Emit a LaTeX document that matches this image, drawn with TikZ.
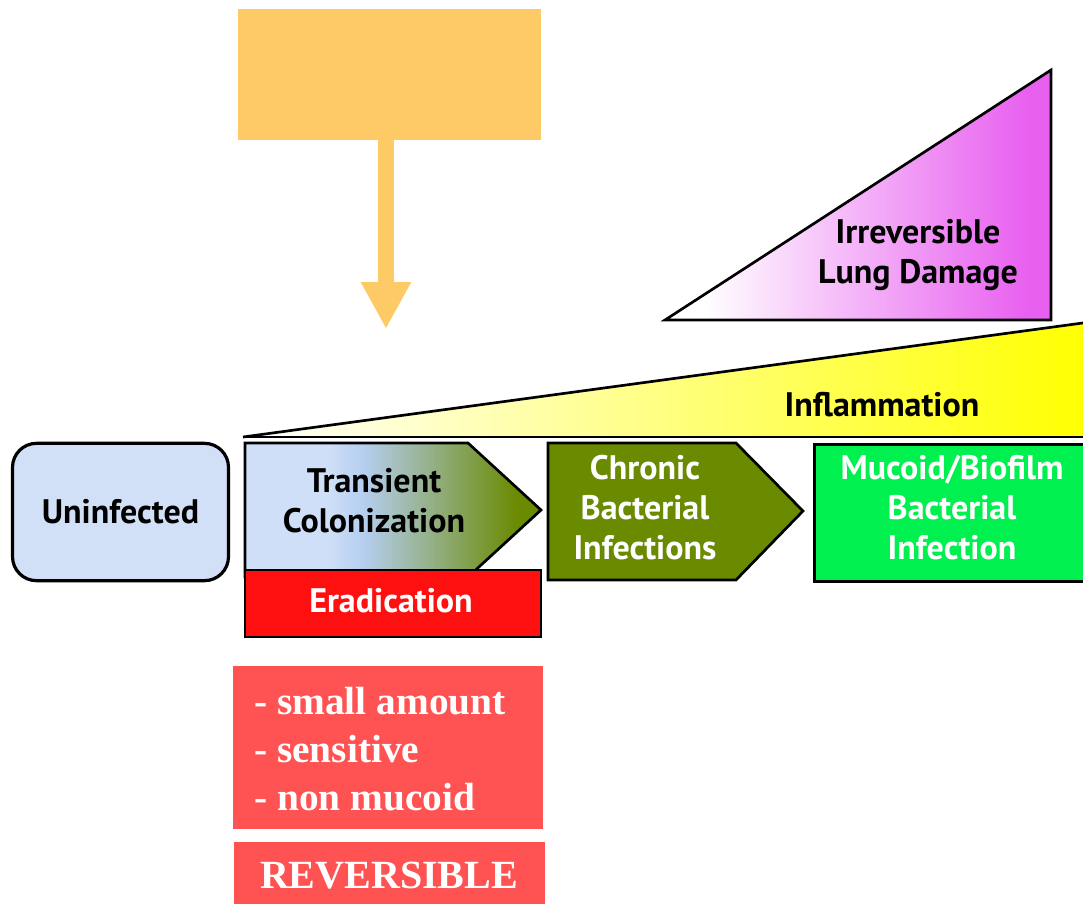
\documentclass[tikz,border=0pt]{standalone}
\usepackage{fontspec}
\setmainfont{Liberation Serif}
\newfontfamily\dfont{PT Sans}
\usetikzlibrary{arrows.meta}
\definecolor{orangebox}{HTML}{FECA66}
\definecolor{uninf}{HTML}{D2E0F7}
\definecolor{lblue}{HTML}{CFDFF7}
\definecolor{mblue}{HTML}{B5CEF0}
\definecolor{olv}{HTML}{6A8A00}
\definecolor{erad}{HTML}{FF1010}
\definecolor{muc}{HTML}{00F050}
\definecolor{listred}{HTML}{FF5252}
\definecolor{magen}{HTML}{E860F0}
\pgfdeclarehorizontalshading{transsh}{100bp}{color(0bp)=(lblue); color(39bp)=(lblue); color(45bp)=(mblue); color(71bp)=(olv); color(100bp)=(olv)}
\pgfdeclarehorizontalshading{magsh}{100bp}{color(0bp)=(white); color(30bp)=(white); color(72bp)=(magen); color(100bp)=(magen)}
\tikzset{
  outline/.style={draw=black, line width=2pt, line join=miter},
  dtext/.style={font=\dfont\bfseries\fontsize{25.5}{30}\selectfont, align=center, inner sep=0pt},
  ltext/.style={font=\bfseries\fontsize{29.5}{36}\selectfont, text=white, align=left, inner sep=0pt},
}
\begin{document}
\begin{tikzpicture}[x={(0.75pt,0)}, y={(0,-0.75pt)}]
\useasboundingbox (0,0) rectangle (1083,904);
\clip (0,0) rectangle (1083,904);
% orange box and arrow
\node[fill=orangebox, minimum width=227.25pt, minimum height=98.25pt, inner sep=0pt] (ob) at (389.5,74.5) {};
\coordinate (obtip) at (386,329);
\draw[orangebox, line width=12.5pt, -{Triangle[width=35.25pt,length=35.25pt]}] (ob.south -| obtip) -- (obtip);
% irreversible lung damage triangle
\path[outline, shading=magsh] (665,320) -- (1051,70) -- (1051,320) -- cycle;
\node[dtext] (irr) at (918,255) {Irreversible\\Lung Damage};
% inflammation wedge
\path[left color=white, right color=yellow] (243,437) -- (1090,322) -- (1090,437) -- cycle;
\draw[black, line width=2pt] (243,437) -- (1090,322);
\draw[black, line width=2.2pt] (243,437) -- (1090,437);
\node[dtext] (infl) at (882,405) {Inflammation};
% uninfected
\node[outline, line width=2.4pt, fill=uninf, rounded corners=18pt, minimum width=162pt, minimum height=103pt] (uninf) at (120.5,512) {};
\node[dtext] at (uninf.center) {Uninfected};
% transient colonization
\path[outline, shading=transsh] (245,443) -- (468,443) -- (541,510) -- (468,577) -- (245,577) -- cycle;
\node[dtext] (trans) at (374,501) {Transient\\Colonization};
% eradication
\node[draw=black, line width=1.2pt, fill=erad, minimum width=222pt, minimum height=50.25pt, inner sep=0pt] (erad) at (393,603.5) {};
\node[dtext, text=white] at (391,601) {Eradication};
% chronic
\path[outline, fill=olv] (548,443) -- (736,443) -- (803,511) -- (736,580) -- (548,580) -- cycle;
\node[dtext, text=white] (chron) at (645,508) {Chronic\\Bacterial\\Infections};
% mucoid
\node[outline, fill=muc, minimum width=210pt, minimum height=102.75pt, anchor=north west] (mucbox) at (813,443) {};
\node[dtext, text=white] (muc) at (952,508) {Mucoid/Biofilm\\Bacterial\\Infection};
% list box
\node[fill=listred, minimum width=232.5pt, minimum height=122.25pt, inner sep=0pt] (lst) at (388,747.5) {};
\node[ltext, anchor=west] at (254,749) {- small amount\\- sensitive\\- non mucoid};
% reversible
\node[fill=listred, minimum width=233.25pt, minimum height=46.5pt, inner sep=0pt] (rev) at (389.5,873) {};
\node[font=\bfseries\fontsize{30}{36}\selectfont, text=white, inner sep=0pt] at (389,876) {REVERSIBLE};
\end{tikzpicture}
\end{document}
